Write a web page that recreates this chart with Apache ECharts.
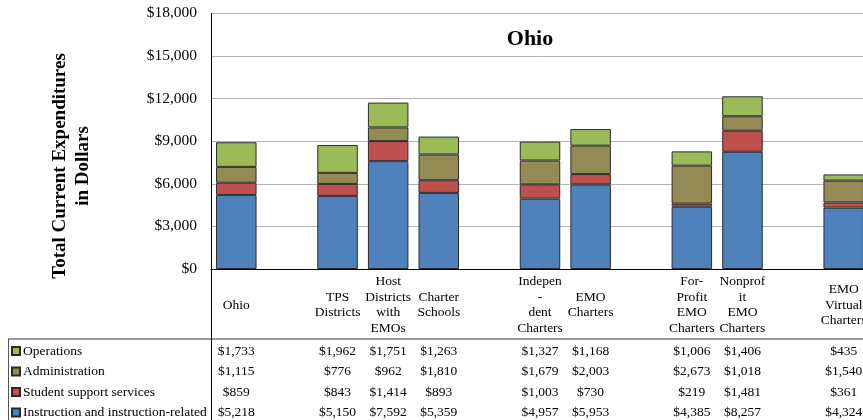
<!DOCTYPE html>
<html>
<head>
<meta charset="utf-8">
<script src="https://cdn.jsdelivr.net/npm/echarts@6/dist/echarts.min.js"></script>
<style>
  html, body { margin: 0; padding: 0; background: #fff; }
  #chart { width: 863px; height: 420px; }
</style>
</head>
<body>
<div id="chart"></div>
<script>
// Category slots; empty strings are spacer columns between groups
const categories = [
  'Ohio', '',
  'TPS\nDistricts', 'Host\nDistricts\nwith\nEMOs', 'Charter\nSchools', '',
  'Indepen\n-\ndent\nCharters', 'EMO\nCharters', '',
  'For-\nProfit\nEMO\nCharters', 'Nonprof\nit\nEMO\nCharters', '',
  'EMO\nVirtual\nCharters'
];

// Per-pupil current expenditures (dollars); null = spacer column
const instruction    = [5218, null, 5150, 7592, 5359, null, 4957, 5953, null, 4385, 8257, null, 4324];
const studentSupport = [859,  null, 843,  1414, 893,  null, 1003, 730,  null, 219,  1481, null, 361];
const administration = [1115, null, 776,  962,  1810, null, 1679, 2003, null, 2673, 1018, null, 1540];
const operations     = [1733, null, 1962, 1751, 1263, null, 1327, 1168, null, 1006, 1406, null, 435];

const seriesNames = ['Operations', 'Administration', 'Student support services', 'Instruction and instruction-related'];
const seriesColors = ['#9BBB59', '#948A54', '#C0504D', '#4F81BD'];

const yMin = 0, yMax = 18000, yStep = 3000;

const FONT = '"Liberation Serif", "Times New Roman", serif';
const money = v => (v == null ? '' : '$' + v.toLocaleString('en-US'));

const chart = echarts.init(document.getElementById('chart'));

// Data-table rows beneath the plot, one axis per row
const tableRows = [operations, administration, studentSupport, instruction];
const rowCenters = [82, 102, 123, 143]; // offset below the category axis line

const tableAxes = tableRows.map((row, r) => ({
  type: 'category',
  gridIndex: 0,
  position: 'bottom',
  offset: rowCenters[r],
  data: categories,
  axisLine: { show: false },
  axisTick: { show: false },
  splitLine: { show: false },
  axisLabel: {
    interval: 0,
    margin: 0,
    verticalAlign: 'middle',
    fontFamily: FONT,
    fontSize: 13.5,
    color: '#000',
    formatter: (v, i) => money(row[i])
  }
}));

const stackOrder = [
  [seriesNames[3], instruction, seriesColors[3]],
  [seriesNames[2], studentSupport, seriesColors[2]],
  [seriesNames[1], administration, seriesColors[1]],
  [seriesNames[0], operations, seriesColors[0]]
];

chart.setOption({
  animation: false,
  backgroundColor: '#fff',
  title: {
    text: 'Ohio',
    left: 530,
    top: 28,
    padding: 0,
    textAlign: 'center',
    textStyle: { fontFamily: FONT, fontSize: 22, fontWeight: 'bold', color: '#000' }
  },
  // plot runs past the right edge of the canvas
  grid: { left: 211, width: 658, top: 13.4, bottom: 151, containLabel: false, outerBoundsMode: 'none' },
  legend: {
    orient: 'vertical',
    left: 11,
    top: 344,
    padding: 0,
    itemWidth: 8,
    itemHeight: 8,
    itemGap: 6.5,
    icon: 'rect',
    data: seriesNames,
    textStyle: { fontFamily: FONT, fontSize: 13.5, lineHeight: 14, color: '#000', padding: [0, 0, 0, -2] }
  },
  xAxis: [{
    type: 'category',
    data: categories,
    position: 'bottom',
    axisLine: { show: true, lineStyle: { color: '#000', width: 1 } },
    axisTick: { show: false },
    axisLabel: {
      interval: 0,
      margin: 36,
      verticalAlign: 'middle',
      fontFamily: FONT,
      fontSize: 13.5,
      lineHeight: 15.8,
      color: '#000'
    }
  }].concat(tableAxes),
  yAxis: {
    type: 'value',
    min: yMin,
    max: yMax,
    interval: yStep,
    axisLine: { show: true, lineStyle: { color: '#000', width: 1 } },
    axisTick: { show: false },
    splitLine: { show: true, lineStyle: { color: '#B3B3B3', width: 1 } },
    axisLabel: {
      margin: 14,
      fontFamily: FONT,
      fontSize: 15.5,
      color: '#000',
      formatter: v => money(v)
    }
  },
  series: stackOrder.map(([name, values, color]) => ({
    name,
    type: 'bar',
    stack: 'total',
    data: values,
    barCategoryGap: '20%',
    itemStyle: { color, borderColor: '#2b2b2b', borderWidth: 1 }
  })),
  graphic: [
    {
      type: 'text',
      x: 71.5,
      y: 166,
      rotation: Math.PI / 2,
      style: {
        text: 'Total Current Expenditures\nin Dollars',
        font: 'bold 19px "Liberation Serif", serif',
        lineHeight: 23,
        fill: '#000',
        align: 'center',
        verticalAlign: 'middle'
      }
    },
    { type: 'line', shape: { x1: 8, y1: 339, x2: 863, y2: 339 }, style: { stroke: '#999', lineWidth: 2 } },
    { type: 'line', shape: { x1: 8.5, y1: 339, x2: 8.5, y2: 420 }, style: { stroke: '#555', lineWidth: 1 } },
    { type: 'line', shape: { x1: 211.5, y1: 269, x2: 211.5, y2: 420 }, style: { stroke: '#000', lineWidth: 1 } }
  ]
});
</script>
</body>
</html>
